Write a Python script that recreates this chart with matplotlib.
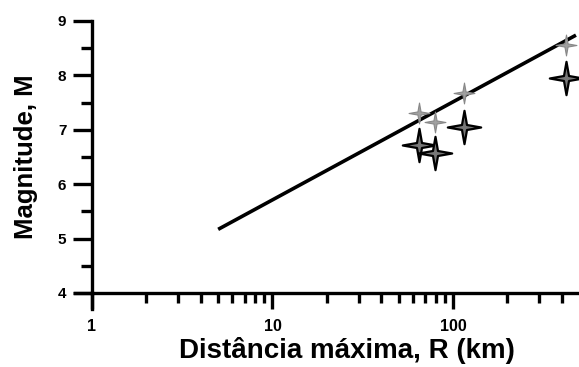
import numpy as np
import matplotlib.pyplot as plt
from matplotlib.path import Path
from matplotlib.ticker import LogLocator, FixedLocator, MultipleLocator, NullFormatter

plt.rcParams['font.family'] = ['Liberation Sans', 'DejaVu Sans']
plt.rcParams['font.weight'] = 'bold'

# data
dist_km = [65, 79, 115, 425]
mag_upper = [7.30, 7.14, 7.67, 8.55]
mag_lower = [6.72, 6.57, 7.06, 7.95]
line_r = [5, 480]
line_m = [5.17, 8.74]

# concave four pointed star
k = 0.15
star = Path([(0, 1), (k, k), (1, 0), (k, -k), (0, -1), (-k, -k), (-1, 0), (-k, k), (0, 1)],
            closed=True)

fig = plt.figure(figsize=(5.79, 3.67), dpi=100)
ax = fig.add_axes([92 / 579, 74 / 367, 487 / 579, 272 / 367])

ax.plot(line_r, line_m, color='black', lw=2.6, solid_capstyle='butt', zorder=2)
ax.plot(dist_km, mag_upper, ls='none', marker=star, ms=15, mfc='#a0a0a0',
        mec='#888888', mew=0.8, zorder=3)
ax.plot(dist_km, mag_lower, ls='none', marker=star, ms=24, mfc='#787878',
        mec='black', mew=1.6, zorder=4)

ax.set_xscale('log')
ax.set_xlim(1, 499)
ax.set_ylim(4, 9)

ax.xaxis.set_major_locator(FixedLocator([1, 10, 100]))
ax.xaxis.set_minor_locator(LogLocator(base=10, subs=np.arange(2, 10)))
ax.xaxis.set_minor_formatter(NullFormatter())
ax.set_xticklabels(['1', '10', '100'])
ax.yaxis.set_major_locator(MultipleLocator(1))
ax.yaxis.set_minor_locator(MultipleLocator(0.5))

for s in ['top', 'right']:
    ax.spines[s].set_visible(False)
for s in ['left', 'bottom']:
    ax.spines[s].set_linewidth(2.4)

ax.xaxis.set_tick_params(which='major', direction='out', length=11.5, width=2.4, pad=7, labelsize=11.5)
ax.xaxis.set_tick_params(which='minor', direction='out', length=7, width=2.4)
ax.yaxis.set_tick_params(which='major', direction='out', length=13.5, width=2.4, pad=5, labelsize=11)
ax.yaxis.set_tick_params(which='minor', direction='out', length=8, width=2.4)

# spines crossing past the origin
ax.plot([-0.035, 0], [0, 0], transform=ax.transAxes, color='black', lw=2.4, clip_on=False)
ax.plot([0, 0], [-0.06, 0], transform=ax.transAxes, color='black', lw=2.4, clip_on=False)

ax.set_xlabel('Distância máxima, R (km)', fontsize=20, fontweight='bold')
ax.xaxis.set_label_coords(0.523, -0.16)
ax.set_ylabel('Magnitude, M', fontsize=18.5, fontweight='bold', labelpad=14)

fig.savefig('out.png', dpi=100)
